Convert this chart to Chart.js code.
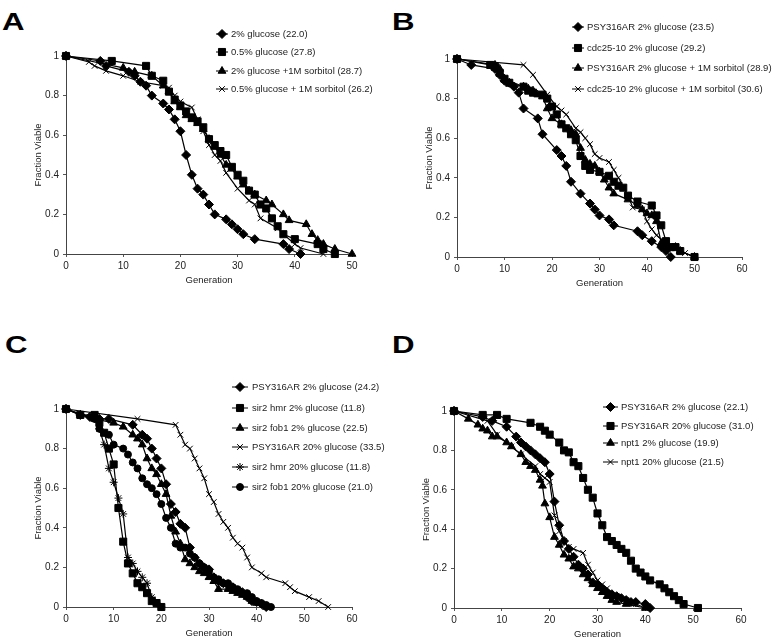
<!DOCTYPE html>
<html>
<head>
<meta charset="utf-8">
<script src="https://cdn.jsdelivr.net/npm/chart.js@4.4.0/dist/chart.umd.min.js"></script>
<style>
body { margin: 0; background: #fff; width: 779px; height: 643px; position: relative; overflow: hidden; font-family: "Liberation Sans", Arial, sans-serif; }
canvas { position: absolute; }
.panel-letter { position: absolute; font-weight: bold; font-size: 24px; line-height: 24px; transform: scaleX(1.3); transform-origin: left top; color: #000; }
</style>
</head>
<body>
<div class="panel-letter" style="left:2px;top:10px">A</div>
<div class="panel-letter" style="left:392px;top:10px">B</div>
<div class="panel-letter" style="left:5px;top:333px">C</div>
<div class="panel-letter" style="left:392px;top:333px">D</div>

<canvas id="chartA" width="390" height="300" style="left:0;top:0"></canvas>
<canvas id="chartB" width="389" height="300" style="left:390px;top:0"></canvas>
<canvas id="chartC" width="390" height="343" style="left:0;top:300px"></canvas>
<canvas id="chartD" width="389" height="343" style="left:390px;top:300px"></canvas>

<script>
// PANEL A
const a1Gen  = [0, 6, 7, 11, 12, 13, 14, 15, 17, 18, 19, 20, 21, 22, 23, 24, 25, 26, 28, 29, 30, 31, 33, 38, 39, 41];
const a1Frac = [1, 0.975, 0.95, 0.92, 0.9, 0.87, 0.85, 0.8, 0.76, 0.73, 0.68, 0.62, 0.5, 0.4, 0.33, 0.3, 0.25, 0.2, 0.175, 0.15, 0.125, 0.1, 0.075, 0.05, 0.025, 0];
const a2Gen  = [0, 8, 14, 15, 17, 18, 19, 20, 21, 22, 23, 24, 25, 26, 27, 28, 29, 30, 31, 32, 33, 34, 35, 36, 37, 38, 40, 44, 45, 47];
const a2Frac = [1, 0.975, 0.95, 0.9, 0.875, 0.82, 0.78, 0.75, 0.72, 0.69, 0.67, 0.64, 0.58, 0.55, 0.52, 0.5, 0.44, 0.4, 0.37, 0.32, 0.3, 0.25, 0.23, 0.18, 0.14, 0.1, 0.075, 0.05, 0.025, 0];
const a3Gen  = [0, 10, 12, 15, 17, 18, 19, 20, 21, 22, 23, 24, 25, 26, 27, 28, 29, 30, 31, 32, 33, 35, 36, 38, 39, 42, 43, 44, 45, 47, 50];
const a3Frac = [1, 0.94, 0.92, 0.9, 0.85, 0.82, 0.77, 0.74, 0.7, 0.68, 0.66, 0.63, 0.58, 0.54, 0.5, 0.45, 0.43, 0.39, 0.35, 0.32, 0.3, 0.27, 0.25, 0.2, 0.17, 0.15, 0.1, 0.07, 0.05, 0.025, 0];
const a4Gen  = [0, 4, 5, 7, 10, 13, 17, 18, 19, 20, 22, 23, 24, 25, 26, 27, 28, 30, 32, 33, 34, 37, 38, 40, 41, 45];
const a4Frac = [1, 0.97, 0.95, 0.925, 0.9, 0.87, 0.85, 0.84, 0.8, 0.77, 0.74, 0.68, 0.62, 0.55, 0.5, 0.47, 0.41, 0.33, 0.27, 0.25, 0.18, 0.13, 0.1, 0.05, 0.03, 0];
const aLabels = ['2% glucose (22.0)', '0.5% glucose (27.8)', '2% glucose +1M sorbitol (28.7)', '0.5% glucose + 1M sorbitol (26.2)'];

// PANEL B
const b1Gen  = [0, 3, 8, 9, 10, 11, 12, 13, 14, 17, 18, 21, 22, 23, 24, 26, 28, 29, 30, 32, 33, 38, 39, 41, 43, 44, 45];
const b1Frac = [1, 0.97, 0.95, 0.92, 0.89, 0.88, 0.86, 0.83, 0.75, 0.7, 0.62, 0.54, 0.51, 0.46, 0.38, 0.32, 0.27, 0.24, 0.21, 0.19, 0.16, 0.13, 0.11, 0.08, 0.05, 0.03, 0];
const b2Gen  = [0, 7, 8, 9, 10, 11, 14, 15, 16, 18, 19, 20, 21, 22, 23, 24, 25, 26, 27, 28, 30, 32, 33, 34, 35, 36, 38, 41, 42, 43, 44, 45, 46, 47, 50];
const b2Frac = [1, 0.97, 0.96, 0.93, 0.9, 0.88, 0.86, 0.84, 0.83, 0.82, 0.8, 0.76, 0.72, 0.67, 0.65, 0.62, 0.59, 0.51, 0.46, 0.44, 0.43, 0.41, 0.38, 0.36, 0.35, 0.31, 0.28, 0.26, 0.21, 0.16, 0.08, 0.05, 0.05, 0.03, 0];
const b3Gen  = [0, 8, 9, 10, 14, 15, 16, 17, 18, 19, 20, 22, 24, 25, 26, 27, 28, 29, 30, 31, 32, 33, 36, 38, 39, 40, 41, 42, 43, 44, 46, 47, 50];
const b3Frac = [1, 0.97, 0.95, 0.9, 0.86, 0.85, 0.84, 0.82, 0.81, 0.75, 0.7, 0.67, 0.64, 0.62, 0.55, 0.49, 0.47, 0.46, 0.43, 0.39, 0.35, 0.32, 0.29, 0.26, 0.24, 0.22, 0.21, 0.18, 0.07, 0.05, 0.05, 0.03, 0];
const b4Gen  = [0, 14, 16, 19, 21, 22, 23, 25, 26, 27, 28, 29, 30, 32, 33, 34, 36, 37, 39, 40, 41, 42, 44, 46, 48, 50];
const b4Frac = [1, 0.97, 0.92, 0.82, 0.76, 0.74, 0.72, 0.65, 0.63, 0.6, 0.57, 0.52, 0.5, 0.48, 0.44, 0.4, 0.31, 0.25, 0.24, 0.18, 0.14, 0.11, 0.07, 0.05, 0.02, 0];
const bLabels = ['PSY316AR 2% glucose (23.5)', 'cdc25-10 2% glucose (29.2)', 'PSY316AR 2% glucose + 1M sorbitol (28.9)', 'cdc25-10 2% glucose + 1M sorbitol (30.6)'];

// PANEL C
const c1Gen  = [0, 3, 5, 7, 9, 14, 16, 17, 18, 19, 20, 21, 22, 23, 24, 25, 26, 27, 28, 29, 30, 31, 32, 33, 34, 35, 36, 37, 38, 39, 40, 41, 42];
const c1Frac = [1, 0.97, 0.96, 0.95, 0.95, 0.92, 0.87, 0.85, 0.8, 0.75, 0.7, 0.62, 0.52, 0.48, 0.42, 0.4, 0.3, 0.25, 0.22, 0.2, 0.19, 0.15, 0.13, 0.12, 0.11, 0.1, 0.08, 0.075, 0.05, 0.03, 0.025, 0.015, 0];
const c2Gen  = [0, 3, 6, 7, 8, 9, 10, 11, 12, 13, 14, 15, 16, 17, 18, 19, 20];
const c2Frac = [1, 0.97, 0.97, 0.93, 0.88, 0.8, 0.72, 0.5, 0.33, 0.22, 0.17, 0.12, 0.1, 0.07, 0.03, 0.02, 0];
const c3Gen  = [0, 3, 6, 10, 12, 14, 15, 16, 17, 18, 19, 20, 21, 22, 23, 24, 25, 26, 27, 28, 29, 30, 31, 32, 34, 35, 36, 37, 38, 39, 40, 42];
const c3Frac = [1, 0.97, 0.95, 0.93, 0.91, 0.87, 0.85, 0.82, 0.75, 0.7, 0.67, 0.62, 0.57, 0.46, 0.38, 0.32, 0.24, 0.22, 0.2, 0.18, 0.17, 0.15, 0.13, 0.09, 0.09, 0.08, 0.07, 0.06, 0.05, 0.03, 0.02, 0];
const c4Gen  = [0, 15, 23, 24, 25, 26, 27, 28, 29, 30, 31, 32, 33, 34, 35, 36, 37, 38, 39, 41, 42, 46, 47, 48, 51, 53, 55];
const c4Frac = [1, 0.95, 0.92, 0.87, 0.82, 0.8, 0.75, 0.7, 0.65, 0.57, 0.53, 0.47, 0.43, 0.4, 0.35, 0.32, 0.3, 0.25, 0.2, 0.17, 0.15, 0.12, 0.1, 0.08, 0.05, 0.03, 0];
const c5Gen  = [0, 6, 7, 8, 9, 10, 11, 12, 13, 14, 15, 16, 17, 18, 19, 20];
const c5Frac = [1, 0.95, 0.9, 0.82, 0.7, 0.63, 0.55, 0.47, 0.25, 0.22, 0.18, 0.15, 0.12, 0.05, 0.02, 0];
const c6Gen  = [0, 6, 7, 9, 10, 12, 13, 14, 15, 16, 17, 18, 19, 20, 21, 22, 23, 24, 25, 26, 27, 28, 29, 30, 31, 32, 33, 34, 35, 36, 37, 38, 39, 40, 41, 42, 43];
const c6Frac = [1, 0.95, 0.9, 0.87, 0.82, 0.8, 0.77, 0.73, 0.7, 0.65, 0.62, 0.6, 0.57, 0.52, 0.45, 0.4, 0.32, 0.3, 0.3, 0.27, 0.25, 0.22, 0.2, 0.18, 0.15, 0.14, 0.12, 0.12, 0.1, 0.09, 0.07, 0.07, 0.05, 0.03, 0.02, 0.01, 0];
const cLabels = ['PSY316AR 2% glucose (24.2)', 'sir2 hmr 2% glucose (11.8)', 'sir2 fob1 2% glucose (22.5)', 'PSY316AR 20% glucose (33.5)', 'sir2 hmr 20% glucose (11.8)', 'sir2 fob1 20% glucose (21.0)'];

// PANEL D
const d1Gen  = [0, 6, 8, 11, 13, 14, 15, 16, 17, 18, 19, 20, 21, 22, 23, 24, 25, 26, 27, 28, 29, 30, 31, 32, 33, 34, 35, 36, 37, 38, 40, 41];
const d1Frac = [1, 0.97, 0.95, 0.92, 0.87, 0.84, 0.82, 0.8, 0.78, 0.76, 0.74, 0.68, 0.54, 0.42, 0.34, 0.3, 0.26, 0.22, 0.2, 0.17, 0.13, 0.12, 0.1, 0.08, 0.07, 0.06, 0.05, 0.04, 0.03, 0.03, 0.02, 0];
const d2Gen  = [0, 6, 9, 11, 16, 18, 19, 20, 22, 23, 24, 25, 26, 27, 28, 29, 30, 31, 32, 33, 34, 35, 36, 37, 38, 39, 40, 41, 43, 44, 45, 46, 47, 48, 51];
const d2Frac = [1, 0.98, 0.98, 0.96, 0.94, 0.92, 0.9, 0.88, 0.84, 0.8, 0.79, 0.74, 0.72, 0.66, 0.6, 0.56, 0.48, 0.42, 0.36, 0.34, 0.32, 0.3, 0.28, 0.24, 0.2, 0.18, 0.16, 0.14, 0.12, 0.1, 0.08, 0.06, 0.04, 0.02, 0];
const d3Gen  = [0, 3, 5, 6, 7, 8, 9, 11, 12, 14, 15, 16, 17, 18, 18.5, 19, 20, 21, 22, 23, 24, 25, 26, 27, 28, 29, 30, 31, 32, 33, 34, 36, 40];
const d3Frac = [1, 0.96, 0.93, 0.91, 0.9, 0.87, 0.87, 0.84, 0.82, 0.78, 0.74, 0.72, 0.7, 0.65, 0.62, 0.53, 0.46, 0.36, 0.32, 0.27, 0.25, 0.21, 0.2, 0.17, 0.15, 0.12, 0.1, 0.08, 0.06, 0.04, 0.03, 0.02, 0];
const d4Gen  = [0, 7, 9, 12, 14, 17, 18, 19, 20, 21, 22, 23, 24, 25, 27, 28, 29, 30, 31, 32, 34, 36, 38, 40];
const d4Frac = [1, 0.95, 0.88, 0.82, 0.78, 0.72, 0.68, 0.66, 0.64, 0.47, 0.39, 0.34, 0.31, 0.3, 0.28, 0.22, 0.18, 0.14, 0.12, 0.1, 0.06, 0.04, 0.02, 0];
const dLabels = ['PSY316AR 2% glucose (22.1)', 'PSY316AR 20% glucose (31.0)', 'npt1 2% glucose (19.9)', 'npt1 20% glucose (21.5)'];

const FONT = '"Liberation Sans", Arial, sans-serif';

// marker shape -> size
const markers = {
    diamond: { pointStyle: 'rectRot', pointRadius: 4.5 },
    square: { pointStyle: 'rect', pointRadius: 5 },
    triangle: { pointStyle: 'triangle', pointRadius: 4.5 },
    cross: { pointStyle: 'crossRot', pointRadius: 4 },
    star: { pointStyle: 'star', pointRadius: 4 },
    circle: { pointStyle: 'circle', pointRadius: 3.5 }
};

function series(label, gens, fracs, marker) {
    return {
        label: label,
        data: gens.map((g, i) => ({ x: g, y: fracs[i] })),
        borderColor: '#000',
        borderWidth: 1.2,
        backgroundColor: '#000',
        pointBackgroundColor: '#000',
        pointBorderColor: '#000',
        pointBorderWidth: 1,
        pointStyle: markers[marker].pointStyle,
        pointRadius: markers[marker].pointRadius,
        tension: 0,
        clip: false
    };
}

// legend in the top right corner, drawn by hand
const sideLegend = {
    id: 'sideLegend',
    afterDraw(chart, args, opts) {
        const ctx = chart.ctx;
        ctx.save();
        ctx.textBaseline = 'middle';
        ctx.font = '9.5px ' + FONT;
        chart.data.datasets.forEach((ds, i) => {
            const y = opts.rows[i];
            ctx.strokeStyle = '#000';
            ctx.fillStyle = '#000';
            ctx.lineWidth = 1;
            ctx.beginPath();
            ctx.moveTo(opts.x1, y);
            ctx.lineTo(opts.x2, y);
            ctx.stroke();
            Chart.helpers.drawPoint(ctx, { pointStyle: ds.pointStyle, radius: ds.pointRadius, borderWidth: 1, rotation: 0 }, (opts.x1 + opts.x2) / 2, y);
            ctx.fillStyle = '#222';
            ctx.fillText(ds.label, opts.textX, y);
        });
        ctx.restore();
    }
};

function makePanel(id, datasets, xMax, padding, legend) {
    const axisStyle = {
        grid: { display: true, drawOnChartArea: false, drawTicks: true, tickLength: 3, color: '#555' },
        border: { display: true, color: '#444', width: 1 }
    };
    return new Chart(document.getElementById(id), {
        type: 'line',
        data: { datasets: datasets },
        options: {
            responsive: false,
            animation: false,
            layout: { padding: padding },
            plugins: {
                legend: { display: false },
                tooltip: { enabled: false },
                sideLegend: legend
            },
            scales: {
                x: {
                    type: 'linear', min: 0, max: xMax,
                    ticks: { stepSize: 10, padding: 3, color: '#222', font: { family: FONT, size: 10 } },
                    title: { display: true, text: 'Generation', padding: 0, color: '#222', font: { family: FONT, size: 9.5 } },
                    afterFit: (s) => { s.height = 32; },
                    ...axisStyle
                },
                y: {
                    type: 'linear', min: 0, max: 1,
                    ticks: {
                        stepSize: 0.2, padding: 4, color: '#222', font: { family: FONT, size: 10 },
                        callback: (v) => String(Math.round(v * 10) / 10)
                    },
                    title: { display: true, text: 'Fraction Viable', padding: 0, color: '#222', font: { family: FONT, size: 9.5 } },
                    afterFit: (s) => { s.width = 33; },
                    ...axisStyle
                }
            }
        },
        plugins: [sideLegend]
    });
}

makePanel('chartA', [
    series(aLabels[0], a1Gen, a1Frac, 'diamond'),
    series(aLabels[1], a2Gen, a2Frac, 'square'),
    series(aLabels[2], a3Gen, a3Frac, 'triangle'),
    series(aLabels[3], a4Gen, a4Frac, 'cross')
], 50, { left: 33, right: 38, top: 56, bottom: 14 },
   { x1: 216, x2: 228, textX: 231, rows: [34, 52, 71, 89] });

makePanel('chartB', [
    series(bLabels[0], b1Gen, b1Frac, 'diamond'),
    series(bLabels[1], b2Gen, b2Frac, 'square'),
    series(bLabels[2], b3Gen, b3Frac, 'triangle'),
    series(bLabels[3], b4Gen, b4Frac, 'cross')
], 60, { left: 34, right: 37, top: 59, bottom: 11 },
   { x1: 182, x2: 194, textX: 197, rows: [27, 48, 68, 89] });

makePanel('chartC', [
    series(cLabels[0], c1Gen, c1Frac, 'diamond'),
    series(cLabels[1], c2Gen, c2Frac, 'square'),
    series(cLabels[2], c3Gen, c3Frac, 'triangle'),
    series(cLabels[3], c4Gen, c4Frac, 'cross'),
    series(cLabels[4], c5Gen, c5Frac, 'star'),
    series(cLabels[5], c6Gen, c6Frac, 'circle')
], 60, { left: 33, right: 38, top: 109, bottom: 4 },
   { x1: 232, x2: 248, textX: 252, rows: [87, 108, 128, 147, 167, 187] });

makePanel('chartD', [
    series(dLabels[0], d1Gen, d1Frac, 'diamond'),
    series(dLabels[1], d2Gen, d2Frac, 'square'),
    series(dLabels[2], d3Gen, d3Frac, 'triangle'),
    series(dLabels[3], d4Gen, d4Frac, 'cross')
], 60, { left: 31, right: 38, top: 111, bottom: 3 },
   { x1: 213, x2: 228, textX: 231, rows: [107, 126, 143, 162] });
</script>
</body>
</html>
